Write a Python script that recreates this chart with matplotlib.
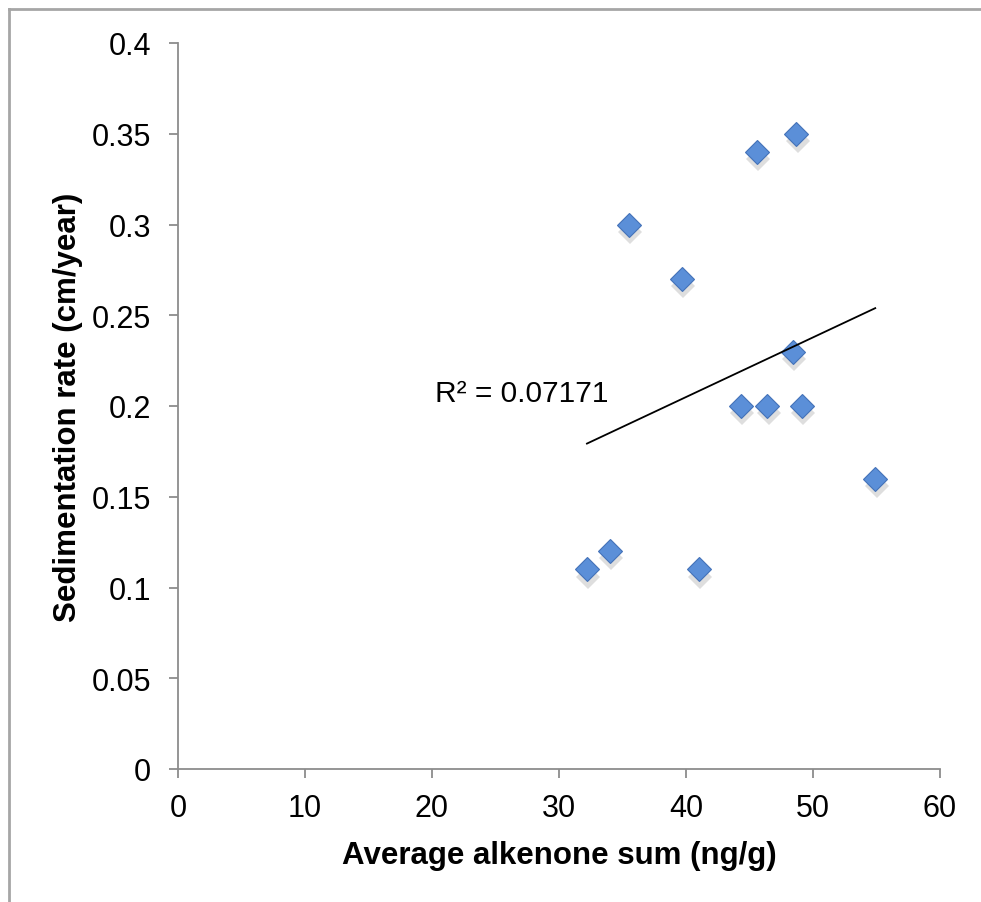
import numpy as np
import matplotlib
matplotlib.use('Agg')
import matplotlib.pyplot as plt
from matplotlib.lines import Line2D

plt.rcParams['font.family'] = ['Liberation Sans', 'DejaVu Sans']

# values
alkenone_sum = [32.2, 34.0, 35.5, 39.7, 41.0, 44.3, 45.6, 46.4, 48.4, 48.7, 49.1, 54.9]
sed_rate = [0.11, 0.12, 0.30, 0.27, 0.11, 0.20, 0.34, 0.20, 0.23, 0.35, 0.20, 0.16]
r2_label = 'R² = 0.07171'
x_ticks = [0, 10, 20, 30, 40, 50, 60]
y_ticks = [0, 0.05, 0.1, 0.15, 0.2, 0.25, 0.3, 0.35, 0.4]
y_tick_labels = ['0', '0.05', '0.1', '0.15', '0.2', '0.25', '0.3', '0.35', '0.4']

fig = plt.figure(figsize=(9.81, 9.03), dpi=100)
ax = fig.add_axes([178 / 981, 133 / 903, 762 / 981, 726 / 903])

# outer chart frame (only left and top visible in the reference)
fig.add_artist(Line2D([9 / 981, 9 / 981], [0, 1 - 10 / 903],
                      transform=fig.transFigure, color='#a6a6a6', lw=2))
fig.add_artist(Line2D([9 / 981, 1], [1 - 10 / 903, 1 - 10 / 903],
                      transform=fig.transFigure, color='#a6a6a6', lw=2))

x = np.array(alkenone_sum)
y = np.array(sed_rate)

# shadow, then markers
ax.plot(x + 0.1, y - 0.004, linestyle='none', marker='D', markersize=12.5,
        color='#c8c8c8', markeredgewidth=0, alpha=0.6, zorder=2)
ax.plot(x, y, linestyle='none', marker='D', markersize=12.5,
        markerfacecolor='#5b8fd8', markeredgecolor='#4472b8',
        markeredgewidth=0.8, zorder=3)

# linear trendline over data range
slope, intercept = np.polyfit(x, y, 1)
xs = np.array([x.min(), x.max()])
ax.plot(xs, slope * xs + intercept, color='black', lw=1.3, zorder=4)

ax.text(20.2, 0.207, r2_label, fontsize=21.5, ha='left', va='center')

ax.set_xlim(0, 60)
ax.set_ylim(0, 0.4)
ax.set_xticks(x_ticks)
ax.set_yticks(y_ticks)
ax.set_yticklabels(y_tick_labels)

for side in ['top', 'right']:
    ax.spines[side].set_visible(False)
for side in ['left', 'bottom']:
    ax.spines[side].set_color('#8c8c8c')
    ax.spines[side].set_linewidth(1.3)

ax.tick_params(axis='both', direction='out', length=6.5, width=1.3,
               color='#8c8c8c', labelsize=22)
ax.tick_params(axis='y', pad=13)
ax.tick_params(axis='x', pad=11)

ax.set_xlabel('Average alkenone sum (ng/g)', fontsize=22.5, fontweight='bold',
              labelpad=12)
ax.set_ylabel('Sedimentation rate (cm/year)', fontsize=22.5, fontweight='bold',
              labelpad=6)

fig.savefig('out.png', dpi=100)
